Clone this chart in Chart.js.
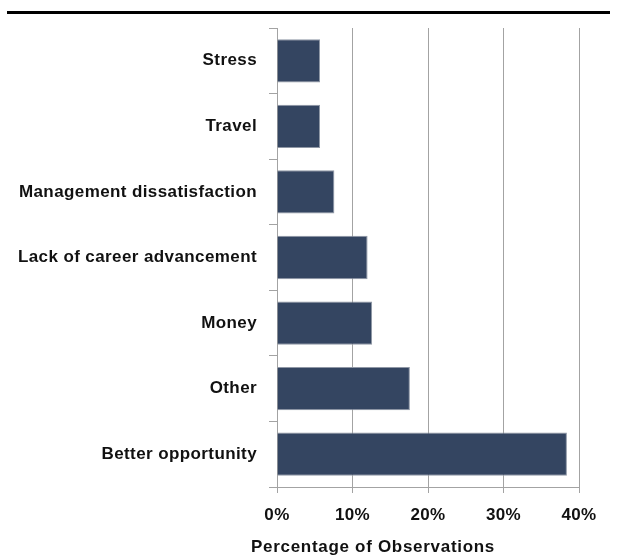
<!DOCTYPE html>
<html>
<head>
<meta charset="utf-8">
<script src="https://cdn.jsdelivr.net/npm/chart.js@4/dist/chart.umd.min.js"></script>
<style>
    html, body { margin: 0; padding: 0; background: #fff; }
    #wrap { position: relative; width: 618px; height: 556px; }
    #topRule { position: absolute; left: 7px; top: 11px; width: 603px; height: 3px; background: #000; }
    #chart { position: absolute; left: 0; top: 0; }
</style>
</head>
<body>
<div id="wrap">
    <div id="topRule"></div>
    <canvas id="chart" width="618" height="556"></canvas>
</div>
<script>
// --- Data ---
const reasons = ['Stress', 'Travel', 'Management dissatisfaction', 'Lack of career advancement', 'Money', 'Other', 'Better opportunity'];
const shares = [5.7, 5.7, 7.6, 12.0, 12.6, 17.6, 38.4];
const xTicks = [0, 10, 20, 30, 40];
const xTitle = 'Percentage of Observations';

const FONT = '"Liberation Sans", Arial, sans-serif';
const GRID = '#a3a3a3';

// the original labels are set a touch wide
const spacing = {
    id: 'spacing',
    beforeDraw(chart) { chart.ctx.letterSpacing = '0.4px'; }
};

// axis title is centred under the whole figure, not the plot area
const axisTitle = {
    id: 'axisTitle',
    afterDraw(chart) {
        const ctx = chart.ctx;
        ctx.save();
        ctx.letterSpacing = '0.7px';
        ctx.font = 'bold 17px ' + FONT;
        ctx.fillStyle = '#111';
        ctx.textAlign = 'center';
        ctx.textBaseline = 'middle';
        ctx.fillText(xTitle, 373, 547);
        ctx.restore();
    }
};

Chart.defaults.font.family = FONT;
Chart.defaults.color = '#111';

new Chart(document.getElementById('chart').getContext('2d'), {
    type: 'bar',
    data: {
        labels: reasons,
        datasets: [{
            data: shares,
            backgroundColor: '#344561',
            borderColor: '#8f97a5',
            borderWidth: 1,
            categoryPercentage: 1,
            barPercentage: 0.66
        }]
    },
    options: {
        indexAxis: 'y',
        responsive: false,
        animation: false,
        devicePixelRatio: 1,
        layout: { padding: { top: 28, right: 39, left: 0, bottom: 0 } },
        plugins: {
            legend: { display: false },
            tooltip: { enabled: false }
        },
        scales: {
            x: {
                min: xTicks[0],
                max: xTicks[xTicks.length - 1],
                afterBuildTicks: scale => { scale.ticks = xTicks.map(v => ({ value: v })); },
                afterFit: scale => { scale.height = 69; },
                grid: { color: GRID, lineWidth: 1, tickLength: 6 },
                border: { color: GRID },
                ticks: {
                    padding: 12,
                    font: { size: 17, weight: 'bold' },
                    callback: v => v + '%'
                }
            },
            y: {
                afterFit: scale => { scale.width = 277; },
                grid: { drawOnChartArea: false, color: GRID, tickLength: 8, offset: true },
                border: { color: GRID },
                ticks: {
                    padding: 12,
                    font: { size: 17, weight: 'bold' }
                }
            }
        }
    },
    plugins: [spacing, axisTitle]
});
</script>
</body>
</html>
